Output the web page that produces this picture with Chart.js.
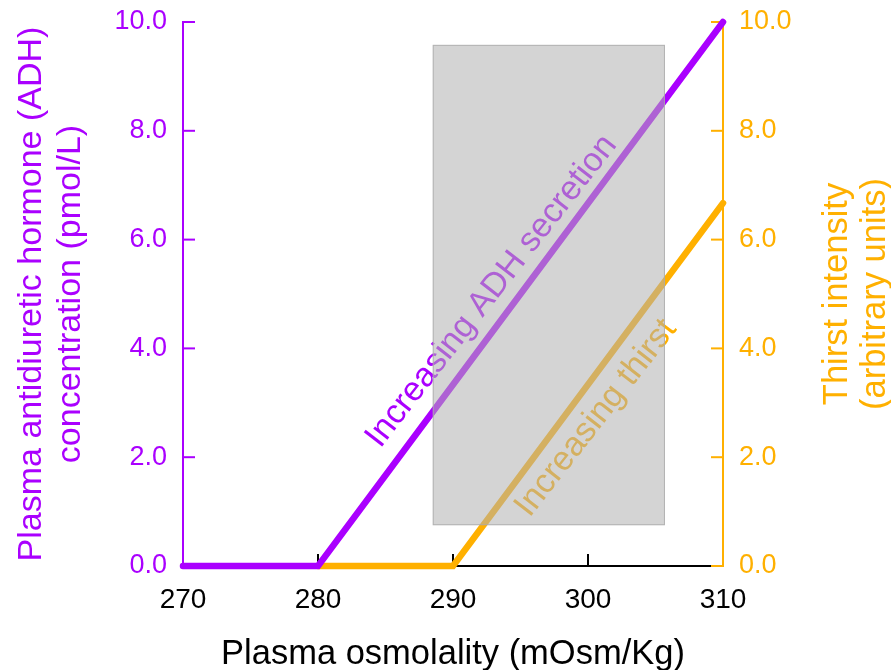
<!DOCTYPE html>
<html>
<head>
<meta charset="utf-8">
<script src="https://cdn.jsdelivr.net/npm/chart.js@4.4.0/dist/chart.umd.min.js"></script>
<style>
  body { margin: 0; background: #fff; }
  canvas { display: block; }
</style>
</head>
<body>
<canvas id="osmo-chart" width="891" height="670"></canvas>
<script>
// values
const adhOsmolality = [270, 280, 310];
const adhLevel = [0, 0, 10];
const thirstOsmolality = [280, 290, 310];
const thirstLevel = [0, 0, 6.67];
const xTicks = [270, 280, 290, 300, 310];
const yTicks = [0, 2, 4, 6, 8, 10];
// shaded band (osmolality range, level range)
const bandOsmolality = [288.5, 305.7];
const bandLevel = [0.75, 9.58];

const PURPLE = "#aa00ff";
const ORANGE = "#ffb000";
const FONT = "'Liberation Sans', Arial, sans-serif";

const toPoints = (xs, ys) => xs.map((x, i) => ({ x: x, y: ys[i] }));

// inward tick marks on all three axes
const innerTicks = {
  id: "innerTicks",
  beforeDatasetsDraw(chart) {
    const { ctx, chartArea, scales } = chart;
    const len = 12;
    ctx.save();
    ctx.lineWidth = 2;
    ctx.strokeStyle = PURPLE;
    yTicks.forEach((v) => {
      const py = scales.y.getPixelForValue(v);
      ctx.beginPath();
      ctx.moveTo(chartArea.left, py);
      ctx.lineTo(chartArea.left + len, py);
      ctx.stroke();
    });
    ctx.strokeStyle = ORANGE;
    yTicks.forEach((v) => {
      const py = scales.y2.getPixelForValue(v);
      ctx.beginPath();
      ctx.moveTo(chartArea.right, py);
      ctx.lineTo(chartArea.right - len, py);
      ctx.stroke();
    });
    ctx.strokeStyle = "#000";
    xTicks.slice(1, -1).forEach((v) => {
      const px = scales.x.getPixelForValue(v);
      ctx.beginPath();
      ctx.moveTo(px, chartArea.bottom);
      ctx.lineTo(px, chartArea.bottom - len);
      ctx.stroke();
    });
    ctx.restore();
  },
};

// labels along the lines, then the translucent band on top of them
const notes = [
  { text: "Increasing ADH secretion", x: 292.85, y: 5.05, color: PURPLE },
  { text: "Increasing thirst", x: 300.6, y: 2.72, color: ORANGE },
];

const bandAndNotes = {
  id: "bandAndNotes",
  afterDatasetsDraw(chart) {
    const { ctx, scales } = chart;
    ctx.save();
    ctx.font = "34px " + FONT;
    ctx.textAlign = "center";
    ctx.textBaseline = "middle";
    notes.forEach((n) => {
      ctx.save();
      ctx.translate(scales.x.getPixelForValue(n.x), scales.y.getPixelForValue(n.y));
      ctx.rotate((-52 * Math.PI) / 180);
      ctx.fillStyle = n.color;
      ctx.fillText(n.text, 0, 0);
      ctx.restore();
    });

    const x0 = scales.x.getPixelForValue(bandOsmolality[0]);
    const x1 = scales.x.getPixelForValue(bandOsmolality[1]);
    const y0 = scales.y.getPixelForValue(bandLevel[1]);
    const y1 = scales.y.getPixelForValue(bandLevel[0]);
    ctx.fillStyle = "rgba(177,177,177,0.55)";
    ctx.fillRect(x0, y0, x1 - x0, y1 - y0);
    ctx.strokeStyle = "rgba(170,170,170,0.8)";
    ctx.lineWidth = 1;
    ctx.strokeRect(x0 + 0.5, y0 + 0.5, x1 - x0 - 1, y1 - y0 - 1);
    ctx.restore();
  },
};

// right-hand title reads bottom to top, like the left one
const rightTitle = {
  id: "rightTitle",
  afterDraw(chart) {
    const { ctx, chartArea } = chart;
    const cy = (chartArea.top + chartArea.bottom) / 2;
    ctx.save();
    ctx.font = "34.5px " + FONT;
    ctx.fillStyle = ORANGE;
    ctx.textAlign = "center";
    ctx.textBaseline = "middle";
    [["Thirst intensity", 837], ["(arbitrary units)", 875]].forEach(([t, x]) => {
      ctx.save();
      ctx.translate(x, cy);
      ctx.rotate(-Math.PI / 2);
      ctx.fillText(t, 0, 0);
      ctx.restore();
    });
    ctx.restore();
  },
};

// no extra room for half tick labels: the plot box is fixed by the widths below
const noEdgePadding = (s) => {
  s.paddingTop = 0;
  s.paddingBottom = 0;
  s.paddingLeft = 0;
  s.paddingRight = 0;
};

new Chart(document.getElementById("osmo-chart"), {
  type: "line",
  data: {
    datasets: [
      {
        label: "ADH",
        data: toPoints(adhOsmolality, adhLevel),
        borderColor: PURPLE,
        borderWidth: 6.5,
        borderCapStyle: "round",
        pointRadius: 0,
        yAxisID: "y",
        clip: false,
      },
      {
        label: "Thirst",
        data: toPoints(thirstOsmolality, thirstLevel),
        borderColor: ORANGE,
        borderWidth: 6.5,
        borderCapStyle: "round",
        pointRadius: 0,
        yAxisID: "y2",
        clip: false,
      },
    ],
  },
  options: {
    responsive: false,
    animation: false,
    layout: { padding: { top: 22 } },
    plugins: { legend: { display: false }, tooltip: { enabled: false } },
    scales: {
      x: {
        type: "linear",
        min: 270,
        max: 310,
        afterBuildTicks: (s) => { s.ticks = xTicks.map((v) => ({ value: v })); },
        afterFit: (s) => { s.height = 104; noEdgePadding(s); },
        grid: { display: false, drawTicks: false },
        border: { color: "#000", width: 2 },
        ticks: { color: "#000", font: { family: FONT, size: 28 }, padding: 17, maxRotation: 0 },
        title: {
          display: true,
          text: "Plasma osmolality (mOsm/Kg)",
          color: "#000",
          font: { family: FONT, size: 34.5, lineHeight: 1 },
          padding: { top: 0, bottom: -2 },
        },
      },
      y: {
        position: "left",
        min: 0,
        max: 10,
        afterBuildTicks: (s) => { s.ticks = yTicks.map((v) => ({ value: v })); },
        afterFit: (s) => { s.width = 183; noEdgePadding(s); },
        grid: { display: false, drawTicks: false },
        border: { color: PURPLE, width: 2 },
        ticks: { color: PURPLE, font: { family: FONT, size: 27 }, padding: 16, callback: (v) => v.toFixed(1) },
        title: {
          display: true,
          text: ["Plasma antidiuretic hormone (ADH)", "concentration (pmol/L)"],
          color: PURPLE,
          font: { family: FONT, size: 34, lineHeight: 1.14 },
          padding: { top: 12, bottom: 0 },
        },
      },
      y2: {
        position: "right",
        min: 0,
        max: 10,
        afterBuildTicks: (s) => { s.ticks = yTicks.map((v) => ({ value: v })); },
        afterFit: (s) => { s.width = 168; noEdgePadding(s); },
        grid: { display: false, drawTicks: false },
        border: { color: ORANGE, width: 2 },
        ticks: { color: ORANGE, font: { family: FONT, size: 27 }, padding: 16, callback: (v) => v.toFixed(1) },
      },
    },
  },
  plugins: [innerTicks, bandAndNotes, rightTitle],
});
</script>
</body>
</html>
